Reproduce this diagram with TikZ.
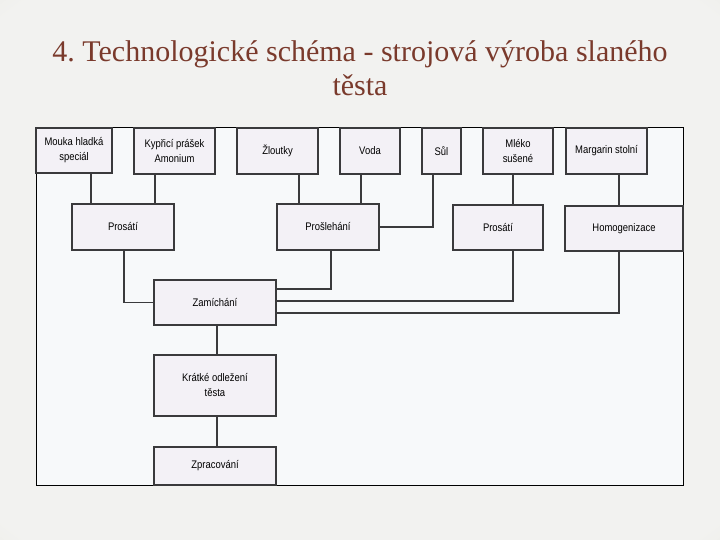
\documentclass[tikz,border=0pt]{standalone}
\usepackage{fontspec}
\usepackage{tikz}
\usepackage{xcolor}
\setmainfont{Liberation Serif}
\newfontfamily\boxfont[FakeStretch=0.86]{Liberation Sans}
\frenchspacing
\definecolor{titlecol}{RGB}{122,58,44}
\definecolor{bgin}{RGB}{242,242,240}
\definecolor{bgout}{RGB}{212,212,190}
\definecolor{panelcol}{RGB}{247,249,250}
\definecolor{boxcol}{RGB}{243,241,246}
\definecolor{linecol}{RGB}{58,58,60}
\pgfdeclareradialshading{slidebg}{\pgfpoint{0bp}{0bp}}{color(0bp)=(bgin); color(34bp)=(bgin); color(56bp)=(bgout); color(75bp)=(bgout)}

\tikzset{
	krok/.style={draw=linecol, fill=boxcol, line width=1.2pt, inner sep=0pt, align=center,
		font=\boxfont\fontsize{11}{15}\selectfont},
	spoj/.style={draw=linecol, line width=1.3pt}
}

\begin{document}
\begin{tikzpicture}[x=1pt, y=-1pt]
		\useasboundingbox (0,0) rectangle (720,540);
		\shade[shading=slidebg] (0,0) rectangle (720,540);
		\node[text=titlecol, align=center, font=\fontsize{30}{34}\selectfont] (nadpis) at (360,68)
			{4. Technologické schéma - strojová výroba slaného\\těsta};
		\draw[fill=panelcol, line width=1pt] (36,128) rectangle (683,485);

		\node[krok, minimum width=76pt, minimum height=45pt] (mouka) at (74,150.5) {Mouka hladká\\speciál};
		\node[krok, minimum width=81pt, minimum height=46pt] (kyprici) at (174.5,151) {Kypřicí prášek\\Amonium};
		\node[krok, minimum width=81pt, minimum height=46pt] (zloutky) at (277.5,151) {Žloutky};
		\node[krok, minimum width=60pt, minimum height=46pt] (voda) at (370,151) {Voda};
		\node[krok, minimum width=39pt, minimum height=46pt] (sul) at (441.5,151) {Sůl};
		\node[krok, minimum width=70pt, minimum height=46pt] (mleko) at (518,151) {Mléko\\sušené};
		\node[krok, minimum width=81pt, minimum height=46pt] (margarin) at (606.5,151) {Margarin stolní};

		\node[krok, minimum width=102pt, minimum height=46pt] (prosati1) at (123,227) {Prosátí};
		\node[krok, minimum width=102pt, minimum height=46pt] (proslehani) at (328,227) {Prošlehání};
		\node[krok, minimum width=90pt, minimum height=45pt] (prosati2) at (498,227.5) {Prosátí};
		\node[krok, minimum width=118pt, minimum height=45pt] (homog) at (624,228.5) {Homogenizace};

		\node[krok, minimum width=122pt, minimum height=45pt] (zamichani) at (215,302.5) {Zamíchání};
		\node[krok, minimum width=122pt, minimum height=61pt] (kratke) at (215,385.5) {Krátké odležení\\těsta};
		\node[krok, minimum width=122pt, minimum height=38pt] (zprac) at (215,466) {Zpracování};

		\draw[spoj] ([xshift=17pt]mouka.south) -- ([xshift=17pt]mouka.south |- prosati1.north);
		\draw[spoj] ([xshift=-19.5pt]kyprici.south) -- ([xshift=-19.5pt]kyprici.south |- prosati1.north);
		\draw[spoj] ([xshift=21.5pt]zloutky.south) -- ([xshift=21.5pt]zloutky.south |- proslehani.north);
		\draw[spoj] ([xshift=-9pt]voda.south) -- ([xshift=-9pt]voda.south |- proslehani.north);
		\draw[spoj] ([xshift=-8.5pt]sul.south) |- (proslehani.east);
		\draw[spoj] ([xshift=-5pt]mleko.south) -- ([xshift=-5pt]mleko.south |- prosati2.north);
		\draw[spoj] ([xshift=12.5pt]margarin.south) -- ([xshift=12.5pt]margarin.south |- homog.north);

		\draw[spoj] ([xshift=1pt]prosati1.south) |- (zamichani.west);
		\draw[spoj] ([xshift=3pt]proslehani.south) |- ([yshift=13.5pt]zamichani.east);
		\draw[spoj] ([xshift=15pt]prosati2.south) |- ([yshift=1.5pt]zamichani.east);
		\draw[spoj] ([xshift=-5pt]homog.south) |- ([yshift=-10.5pt]zamichani.east);

		\draw[spoj] ([xshift=2pt]zamichani.south) -- ([xshift=2pt]kratke.north);
		\draw[spoj] ([xshift=2pt]kratke.south) -- ([xshift=2pt]zprac.north);
	\end{tikzpicture}
\end{document}
